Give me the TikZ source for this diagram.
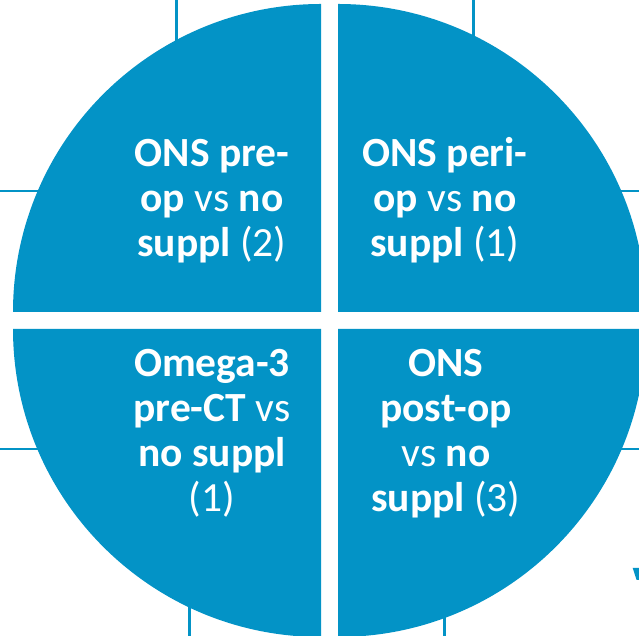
\documentclass[tikz,border=0pt]{standalone}
\usepackage{fontspec}
\setmainfont{Carlito}
\definecolor{quadblue}{RGB}{3,147,198}
\tikzset{
  quad/.style={fill=quadblue},
  rule/.style={draw=quadblue, line width=2.2pt},
  lbl/.style={text=white, anchor=base, inner sep=0pt, font=\fontsize{41.5}{45}\selectfont},
}
\begin{document}
\begin{tikzpicture}[x=1pt, y=1pt]
\useasboundingbox (0,0) rectangle (639,636);
\clip (0,0) rectangle (639,636);

% background guide lines, mostly hidden by the disc
\coordinate (v1a) at (176.5,636); \coordinate (v1b) at (176.5,570);
\coordinate (v2a) at (473.5,636); \coordinate (v2b) at (473.5,570);
\coordinate (v3a) at (189.5,0);   \coordinate (v3b) at (189.5,60);
\coordinate (v4a) at (444.5,0);   \coordinate (v4b) at (444.5,60);
\coordinate (h1a) at (0,445);     \coordinate (h1b) at (70,445);
\coordinate (h2a) at (0,187);     \coordinate (h2b) at (70,187);
\coordinate (h3a) at (639,445);   \coordinate (h3b) at (580,445);
\coordinate (h4a) at (639,187);   \coordinate (h4b) at (580,187);
\draw[rule] (v1a) -- (v1b);
\draw[rule] (v2a) -- (v2b);
\draw[rule] (v3a) -- (v3b);
\draw[rule] (v4a) -- (v4b);
\draw[rule] (h1a) -- (h1b);
\draw[rule] (h2a) -- (h2b);
\draw[rule] (h3a) -- (h3b);
\draw[rule] (h4a) -- (h4b);
\fill[quadblue] (632.7,68) -- (639,68) -- (639,56) -- (636.6,56) -- cycle;

% four quarter discs
\fill[quad] (321,324) -- ++(0,308) arc[start angle=90, end angle=180, radius=308] -- cycle;
\fill[quad] (338,324) -- ++(308,0) arc[start angle=0, end angle=90, radius=308] -- cycle;
\fill[quad] (321,307) -- ++(-308,0) arc[start angle=180, end angle=270, radius=308] -- cycle;
\fill[quad] (338,307) -- ++(0,-308) arc[start angle=270, end angle=360, radius=308] -- cycle;

% top left
\node[lbl] (tl1) at (212,469) {\textbf{ONS pre-}};
\node[lbl] (tl2) at (212,424) {\textbf{op} vs \textbf{no}};
\node[lbl] (tl3) at (212,379) {\textbf{suppl} (2)};
% top right
\node[lbl] (tr1) at (445,469) {\textbf{ONS peri-}};
\node[lbl] (tr2) at (445,424) {\textbf{op} vs \textbf{no}};
\node[lbl] (tr3) at (445,379) {\textbf{suppl} (1)};
% bottom left
\node[lbl] (bl1) at (212,259) {\textbf{Omega-3}};
\node[lbl] (bl2) at (212,214) {\textbf{pre-CT} vs};
\node[lbl] (bl3) at (212,169) {\textbf{no suppl}};
\node[lbl] (bl4) at (212,124) {(1)};
% bottom right
\node[lbl] (br1) at (446,259) {\textbf{ONS}};
\node[lbl] (br2) at (446,214) {\textbf{post-op}};
\node[lbl] (br3) at (446,169) {vs \textbf{no}};
\node[lbl] (br4) at (446,124) {\textbf{suppl} (3)};
\end{tikzpicture}
\end{document}
